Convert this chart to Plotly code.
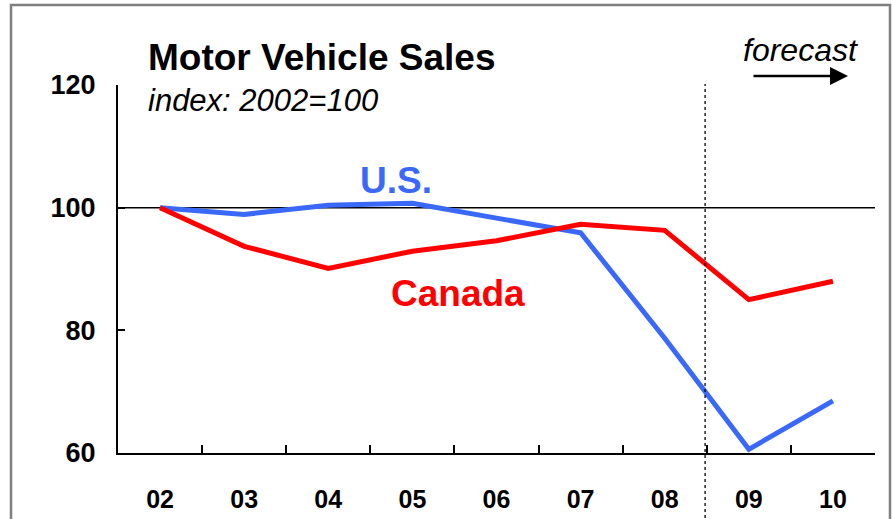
import plotly.graph_objects as go

years = ["02", "03", "04", "05", "06", "07", "08", "09", "10"]
us = [100.0, 98.9, 100.4, 100.7, 98.3, 95.9, 78.7, 60.6, 68.5]
canada = [100.0, 93.7, 90.1, 92.9, 94.6, 97.3, 96.3, 85.0, 88.0]
y_ticks = [60, 80, 100, 120]

FONT = "Liberation Sans, Arial, sans-serif"
BLUE = "#3A68F8"
RED = "#FF0000"

fig = go.Figure()
fig.add_trace(go.Scatter(x=years, y=us, mode="lines", name="U.S.",
                         line=dict(color=BLUE, width=5)))
fig.add_trace(go.Scatter(x=years, y=canada, mode="lines", name="Canada",
                         line=dict(color=RED, width=5)))

L, R, T, B = 118, 18, 85, 66
W, H = 893, 519
pw, ph = W - L - R, H - T - B

def px_x(p):
    return (p - L) / pw

def px_y(p):
    return (H - B - p) / ph

fig.update_layout(
    width=W, height=H,
    margin=dict(l=L, r=R, t=T, b=B, autoexpand=False),
    paper_bgcolor="white", plot_bgcolor="white",
    showlegend=False,
    font=dict(family=FONT, color="black"),
    xaxis=dict(type="category", range=[-0.5, 8.5], tickson="boundaries",
               ticks="inside", ticklen=8, tickwidth=1.5, tickcolor="black",
               showline=True, linecolor="black", linewidth=2,
               showgrid=False, zeroline=False, automargin=False,
               tickfont=dict(size=25, family=FONT, color="black", weight="bold"),
               ticklabelstandoff=23),
    yaxis=dict(range=[60, 120], tickvals=y_ticks, ticks="inside", ticklen=7,
               tickwidth=1.5, tickcolor="black",
               showline=True, linecolor="black", linewidth=2,
               showgrid=False, zeroline=False, automargin=False,
               tickfont=dict(size=27, family=FONT, color="black", weight="bold"),
               ticklabelstandoff=15),
)

# reference line at 100
fig.add_shape(type="line", xref="x", yref="y", x0=-0.5, x1=8.5, y0=100, y1=100,
              line=dict(color="black", width=1.5), layer="below")
# forecast divider (between 08 and 09)
fig.add_shape(type="line", xref="x", yref="paper", x0=6.48, x1=6.48,
              y0=px_y(530), y1=px_y(84), line=dict(color="black", width=1.3, dash="dot"))
# outer frame
fig.add_shape(type="rect", xref="paper", yref="paper",
              x0=px_x(11), x1=px_x(890), y0=px_y(540), y1=px_y(5),
              line=dict(color="#808080", width=2.5), fillcolor="rgba(0,0,0,0)")

fig.add_annotation(xref="paper", yref="paper", x=px_x(146), y=px_y(57),
                   xanchor="left", yanchor="middle", showarrow=False,
                   text="<b>Motor Vehicle Sales</b>",
                   font=dict(size=37, family=FONT, color="black"))
fig.add_annotation(xref="paper", yref="paper", x=px_x(146), y=px_y(100),
                   xanchor="left", yanchor="middle", showarrow=False,
                   text="<i>index: 2002=100</i>",
                   font=dict(size=31, family=FONT, color="black"))
fig.add_annotation(xref="paper", yref="paper", x=px_x(800), y=px_y(50),
                   xanchor="center", yanchor="middle", showarrow=False,
                   text="<i>forecast</i>",
                   font=dict(size=32, family=FONT, color="black"))
fig.add_annotation(xref="paper", yref="paper", x=px_x(848), y=px_y(76),
                   ax=-96, ay=0, axref="pixel", ayref="pixel",
                   text="", showarrow=True, arrowhead=2, arrowsize=1.5,
                   arrowwidth=2.4, arrowcolor="black")
fig.add_annotation(xref="paper", yref="paper", x=px_x(396), y=px_y(180),
                   xanchor="center", yanchor="middle", showarrow=False,
                   text="<b>U.S.</b>", font=dict(size=37, family=FONT, color=BLUE))
fig.add_annotation(xref="paper", yref="paper", x=px_x(458), y=px_y(293),
                   xanchor="center", yanchor="middle", showarrow=False,
                   text="<b>Canada</b>", font=dict(size=37, family=FONT, color=RED))

fig.write_html("out.html", config={"displayModeBar": False},
               post_script="document.body.style.margin='0';")
